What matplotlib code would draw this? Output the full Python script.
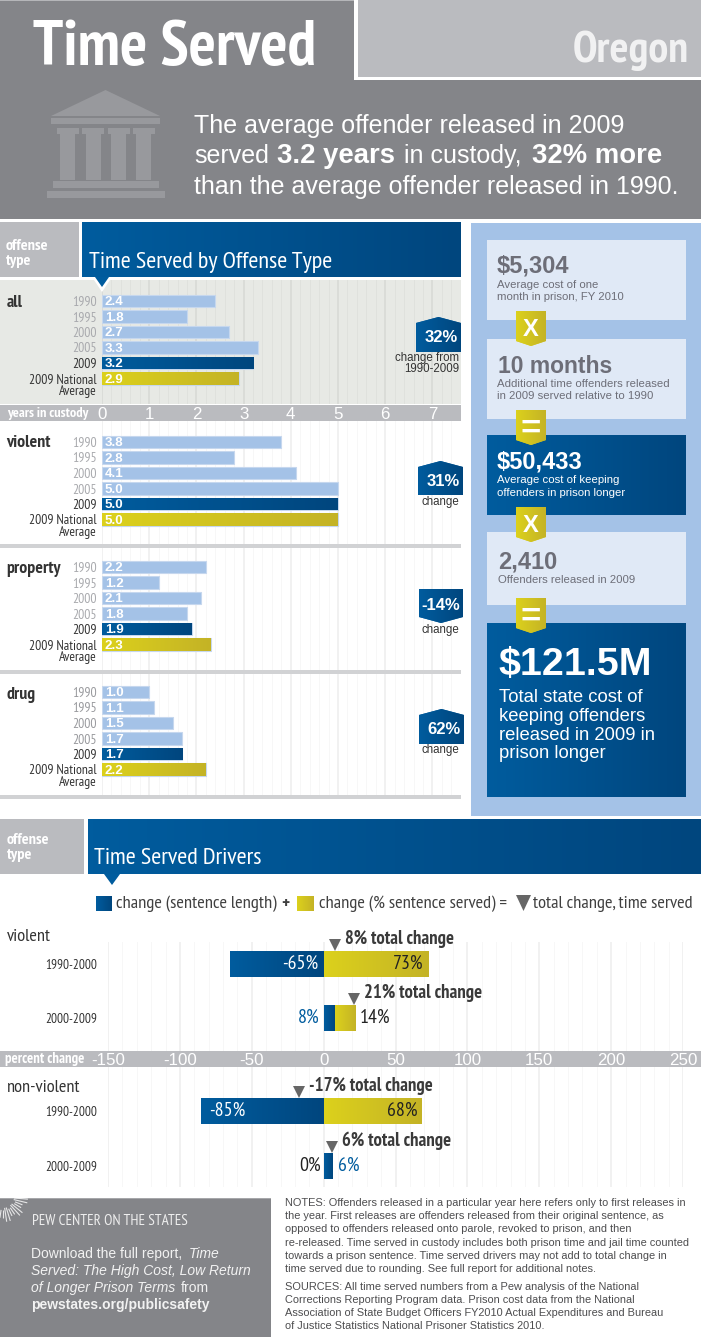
"""Time Served - Oregon fact sheet."""
import matplotlib

matplotlib.use("Agg")
import matplotlib.pyplot as plt
import numpy as np
from matplotlib.colors import LinearSegmentedColormap
from matplotlib.patches import Polygon, Rectangle

W, H = 701, 1337
NARROW = ["PT Sans Narrow", "Liberation Sans"]
SANS = "Liberation Sans"

GRAY = "#848589"
LIGHT_GRAY = "#babbbf"
LIGHT_BLUE = "#a4c2e7"
PALE_BLUE = "#e0e9f6"
BLUE = ("#005c9e", "#00467e")
YELLOW = ("#dcd11c", "#c4b326")

# time served by offense type
years = ["1990", "1995", "2000", "2005", "2009", "2009 National"]
offenses = ["all", "violent", "property", "drug"]
all_values = [2.4, 1.8, 2.7, 3.3, 3.2, 2.9]
violent_values = [3.8, 2.8, 4.1, 5.0, 5.0, 5.0]
property_values = [2.2, 1.2, 2.1, 1.8, 1.9, 2.3]
drug_values = [1.0, 1.1, 1.5, 1.7, 1.7, 2.2]
changes = ["32%", "31%", "-14%", "62%"]

# time served drivers
periods = ["1990-2000", "2000-2009"]
violent_length = [-65, 8]
violent_served = [73, 14]
violent_total = [8, 21]
nonviolent_length = [-85, 6]
nonviolent_served = [68, 0]
nonviolent_total = [-17, 6]

year_ticks = list(range(8))
percent_ticks = list(range(-150, 251, 50))


def px_axes(left, top, right, bottom, zorder=1):
    ax = fig.add_axes(
        [left / W, 1 - bottom / H, (right - left) / W, (bottom - top) / H],
        zorder=zorder,
    )
    ax.patch.set_visible(False)
    for spine in ax.spines.values():
        spine.set_visible(False)
    return ax


def gradient(ax, patch, colors):
    # horizontal gradient clipped to a patch
    x0, y0, x1, y1 = patch.get_path().get_extents(patch.get_patch_transform()).extents
    cmap = LinearSegmentedColormap.from_list("g", colors)
    im = ax.imshow(
        np.linspace(0, 1, 128).reshape(1, -1),
        extent=(x0, x1, y1, y0),
        cmap=cmap,
        aspect="auto",
        interpolation="bilinear",
        zorder=patch.get_zorder() + 0.1,
    )
    im.set_clip_path(patch)


def rect(ax, x0, y0, x1, y1, color, zorder=1):
    p = Rectangle((x0, y0), x1 - x0, y1 - y0, fc=color, ec="none", zorder=zorder)
    ax.add_patch(p)
    return p


def grad_rect(ax, x0, y0, x1, y1, colors, zorder=1):
    gradient(ax, rect(ax, x0, y0, x1, y1, colors[0], zorder), colors)


def poly(ax, pts, color, zorder=1):
    p = Polygon(pts, closed=True, fc=color, ec="none", zorder=zorder)
    ax.add_patch(p)
    return p


def label(ax, x, y, s, size, color="white", family=SANS, weight="normal", **kw):
    kw.setdefault("va", "baseline")
    return ax.text(x, y, s, fontsize=size, color=color, family=family, weight=weight, **kw)


def set_grid(ax, minor_step, xmin, xmax):
    ax.set_xticks(np.arange(xmin, xmax + 1e-6, minor_step), minor=True)
    ax.grid(True, which="major", axis="x", color="black", alpha=0.07, lw=1.1)
    ax.grid(True, which="minor", axis="x", color="black", alpha=0.03, lw=0.7)
    ax.set_axisbelow(True)
    ax.tick_params(which="both", length=0)


def offense_panel(values, top, bottom, first, muted, show_ticks=False):
    step = 15.5
    ax = px_axes(102, top, 461, bottom)
    ax.set_xlim(0, 359 / 47.2)
    ax.set_ylim((bottom - first) / step, (top - first) / step)
    ax.autoscale(False)
    ax.set_xticks(year_ticks)
    set_grid(ax, 0.2, 0, 7.6)
    if show_ticks:
        ax.set_xticklabels([str(t) for t in year_ticks], color="white", fontsize=12.2, family=SANS)
        ax.tick_params(axis="x", pad=2.5)
    else:
        ax.set_xticklabels([])

    rows = np.arange(len(values))
    bars = ax.barh(rows, values, height=0.8, color=LIGHT_BLUE, edgecolor="#c6d7ee", linewidth=0.8, zorder=3)
    gradient(ax, bars[4], BLUE)
    gradient(ax, bars[5], YELLOW)
    for row, v in zip(rows, values):
        ax.text(0.06, row + 0.08, f"{v:.1f}", color="white", fontsize=9.6, family=SANS,
                weight="bold", va="center", zorder=5)

    ax.set_yticks(list(rows) + [5.73])
    ax.set_yticklabels(years + ["Average"], family=NARROW, fontsize=9.8)
    ax.tick_params(axis="y", pad=3.6)
    for i, tick in enumerate(ax.get_yticklabels()):
        tick.set_color(muted if i < 4 else "#333333")
    return ax


def driver_panel(length, served, total, top, bottom, first, step, show_ticks=False):
    ax = px_axes(108, top, 683, bottom)
    ax.set_xlim(percent_ticks[0], percent_ticks[-1])
    ax.set_ylim((bottom - first) / step, (top - first) / step)
    ax.autoscale(False)
    ax.set_xticks(percent_ticks)
    set_grid(ax, 10, percent_ticks[0], percent_ticks[-1])
    if show_ticks:
        ax.set_xticklabels([str(t) for t in percent_ticks], color="white", fontsize=12.2, family=SANS)
        ax.tick_params(axis="x", pad=1.5)
    else:
        ax.set_xticklabels([])

    rows = np.arange(len(periods))
    h = 26 / step
    blue = ax.barh(rows, length, height=h, color=BLUE[0], zorder=3)
    starts = [a if a > 0 else 0 for a in length]
    yellow = ax.barh(rows, served, left=starts, height=h, color=YELLOW[0], zorder=3)
    for b in blue:
        gradient(ax, b, BLUE)
    for b in yellow:
        if b.get_width() > 0:
            gradient(ax, b, YELLOW)

    ax.plot(total, rows - (13 + 6.5) / step, "v", ms=9.2, color="#666666", mew=0, clip_on=False, zorder=6)
    for row, t in zip(rows, total):
        ax.annotate(f"{t}% total change", (t, row - (13 + 6.5) / step), xytext=(7.2, 3.8),
                    textcoords="offset points", va="center", family=NARROW, weight="bold",
                    fontsize=13.4, color="#3a3a3a", annotation_clip=False, zorder=6)

    ax.set_yticks(rows)
    ax.set_yticklabels(periods, family=NARROW, fontsize=9.6, color="#333333")
    ax.tick_params(axis="y", pad=8)
    return ax


plt.rcParams["font.family"] = SANS
fig = plt.figure(figsize=(W / 100, H / 100), dpi=100, facecolor="white")

bg = px_axes(0, 0, W, H, zorder=0)
fg = px_axes(0, 0, W, H, zorder=10)
for a in (bg, fg):
    a.set_xlim(0, W)
    a.set_ylim(H, 0)
    a.autoscale(False)
    a.axis("off")

# header
rect(bg, 0, 0, W, 219, GRAY)
rect(bg, 0, 0, W, 1, "#b5b6b9")
rect(bg, 354, 0, W, 80, "white")
rect(bg, 357.5, 0, W, 77, LIGHT_GRAY)
label(fg, 33, 65, "Time Served", 46, family=NARROW, weight="bold")
label(fg, 689, 62, "Oregon", 32, color="#f1f1f2", family=NARROW, weight="bold", ha="right")

# temple icon
ICON = "#98999d"
poly(bg, [(105.5, 90), (160, 116), (51, 116)], ICON)
rect(bg, 51, 118, 160, 124, ICON)
for cx in (67.5, 93, 118.5, 143.5):
    rect(bg, cx - 11, 128, cx + 11, 134, ICON)
    rect(bg, cx - 7.5, 134, cx + 7.5, 180, ICON)
rect(bg, 53, 181, 159, 188, ICON)
rect(bg, 47, 191, 165, 198, ICON)

HEAD = 18
label(fg, 194, 133, "The average offender released in 2009", HEAD)
label(fg, 194, 163, "served", HEAD)
label(fg, 277, 163, "3.2 years", 19.8, weight="bold")
label(fg, 404, 163, "in custody,", HEAD)
label(fg, 532, 163, "32% more", 19.8, weight="bold")
label(fg, 194, 194, "than the average offender released in 1990.", HEAD)

# offense type section
rect(bg, 0, 222, 79, 277, LIGHT_GRAY)
grad_rect(bg, 82, 222, 461, 277, BLUE)
label(fg, 6, 250, "offense", 11.6, family=NARROW, weight="bold")
label(fg, 6, 265, "type", 11.6, family=NARROW, weight="bold")
label(fg, 89, 268, "Time Served by Offense Type", 17.5, family=NARROW)
poly(fg, [(92, 277), (112, 277), (102, 292)], "white", zorder=3)
poly(fg, [(95, 277), (109, 277), (102, 287)], BLUE[0], zorder=4)

rect(bg, 0, 280, 461, 404, "#e7e9e5")
rect(bg, 0, 405, 461, 421, LIGHT_GRAY)
rect(bg, 0, 544, 461, 548, "#d1d2d4")
rect(bg, 0, 670, 461, 674, "#d1d2d4")
rect(bg, 0, 795, 461, 799, "#d1d2d4")
label(fg, 7, 413, "years in custody", 10.3, family=NARROW, weight="bold", va="center")

offense_panel(all_values, 280, 404, 301, "#a8a9ad", show_ticks=True)
offense_panel(violent_values, 421, 544, 442, "#a8a9ad")
offense_panel(property_values, 548, 670, 567, "#a8a9ad")
offense_panel(drug_values, 674, 795, 692, "#98999d")

for name, y in zip(offenses, (303, 443, 569, 695)):
    label(fg, 6.5, y, name, 12.8, color="#333333", family=NARROW, weight="bold", va="center")

# change badges: row, left, apex, shoulder, base
up_badges = [(0, 416, 317, 323, 352), (1, 418, 461, 467, 495), (3, 419, 709, 715, 744)]
for i, x0, apex, shoulder, base in up_badges:
    x1 = x0 + 45
    p = poly(fg, [(x0, shoulder), ((x0 + x1) / 2, apex), (x1, shoulder), (x1, base), (x0, base)], BLUE[0], 2)
    gradient(fg, p, BLUE)
    label(fg, x1 - 3, (shoulder + base) / 2 + 0.5, changes[i], 12, weight="bold", ha="right", va="center", zorder=5)
p = poly(fg, [(419, 589), (463, 589), (463, 617), (441, 623), (419, 617)], BLUE[0], 2)
gradient(fg, p, BLUE)
label(fg, 460, 605, changes[2], 12, weight="bold", ha="right", va="center", zorder=5)

label(fg, 459, 358, "change from", 8.3, color="#333333", ha="right", va="center")
label(fg, 459, 369.5, "1990-2009", 8.3, color="#333333", ha="right", va="center")
label(fg, 459, 502, "change", 8.3, color="#333333", ha="right", va="center")
label(fg, 459, 630, "change", 8.3, color="#333333", ha="right", va="center")
label(fg, 459, 750, "change", 8.3, color="#333333", ha="right", va="center")

# cost panel
INK = "#6d6e78"
rect(bg, 471, 222.5, W, 816, LIGHT_BLUE)
rect(bg, 487, 240, 686, 320, PALE_BLUE)
rect(bg, 487, 339, 686, 419, PALE_BLUE)
grad_rect(bg, 487, 435, 686, 515, BLUE)
rect(bg, 487, 532, 686, 605, PALE_BLUE)
grad_rect(bg, 487, 623, 686, 797, BLUE)

label(fg, 497, 272, "$5,304", 17, color=INK, weight="bold")
label(fg, 497, 288, "Average cost of one", 8.2, color=INK)
label(fg, 497, 300, "month in prison, FY 2010", 8.2, color=INK)
label(fg, 498, 373, "10 months", 16.5, color=INK, weight="bold")
label(fg, 497, 387, "Additional time offenders released", 8.2, color=INK)
label(fg, 497, 399, "in 2009 served relative to 1990", 8.2, color=INK)
label(fg, 497, 469, "$50,433", 17, weight="bold")
label(fg, 497, 483, "Average cost of keeping", 8.2)
label(fg, 497, 496, "offenders in prison longer", 8.2)
label(fg, 498, 569, "2,410", 17, color=INK, weight="bold")
label(fg, 498, 583, "Offenders released in 2009", 8.2, color=INK)
label(fg, 498, 675, "$121.5M", 28.4, weight="bold")
for y, s in zip((702, 721, 739.5, 758),
                ("Total state cost of", "keeping offenders", "released in 2009 in", "prison longer")):
    label(fg, 499, y, s, 13.3)

for y0, sign in zip((311, 410, 507, 598), ("X", "=", "X", "=")):
    p = poly(fg, [(516, y0), (546, y0), (546, y0 + 30), (531, y0 + 35), (516, y0 + 30)], YELLOW[0], 2)
    gradient(fg, p, YELLOW)
    label(fg, 531, y0 + 16, sign, 17 if sign == "X" else 25, weight="bold", ha="center",
          va="center_baseline", zorder=5)

# drivers section
rect(bg, 0, 819, 84, 874, LIGHT_GRAY)
grad_rect(bg, 87.5, 819, W, 874, BLUE)
label(fg, 7, 844, "offense", 11.6, family=NARROW, weight="bold")
label(fg, 7, 859, "type", 11.6, family=NARROW, weight="bold")
label(fg, 94, 864, "Time Served Drivers", 17.5, family=NARROW)
poly(fg, [(104, 874), (120, 874), (112, 885)], BLUE[0], 4)

# legend
grad_rect(fg, 96, 896, 112, 911, BLUE)
grad_rect(fg, 297, 896, 314, 911, YELLOW)
poly(fg, [(516, 895), (531, 895), (523.5, 911)], "#666666")
LEG = 13.3
label(fg, 116, 908, "change (sentence length)", LEG, color="#404040", family=NARROW)
label(fg, 281, 908, "+", LEG, color="#404040", family=NARROW, weight="bold")
label(fg, 319, 908, "change (% sentence served) =", LEG, color="#404040", family=NARROW)
label(fg, 533, 908, "total change, time served", LEG, color="#404040", family=NARROW)

rect(bg, 0, 1051, W, 1067, LIGHT_GRAY)
label(fg, 5, 1059, "percent change", 10.5, family=NARROW, weight="bold", va="center")
label(fg, 7, 937, "violent", 13.2, color="#333333", family=NARROW, va="center")
label(fg, 7, 1088, "non-violent", 13.2, color="#333333", family=NARROW, va="center")

ax_v = driver_panel(violent_length, violent_served, violent_total, 942, 1051, 964, 54, show_ticks=True)
ax_n = driver_panel(nonviolent_length, nonviolent_served, nonviolent_total, 1067, 1187, 1111, 55)


def bar_note(ax, x, row, s, color, ha, dx):
    ax.annotate(s, (x, row), xytext=(dx, 0), textcoords="offset points", ha=ha, va="center",
                family=NARROW, fontsize=14.3, color=color, annotation_clip=False, zorder=6)


bar_note(ax_v, 0, 0, "-65%", "white", "right", -4)
bar_note(ax_v, violent_served[0], 0, "73%", "#222222", "right", -4)
bar_note(ax_v, 0, 1, "8%", BLUE[0], "right", -3)
bar_note(ax_v, violent_length[1] + violent_served[1], 1, "14%", "#222222", "left", 3.5)
bar_note(ax_n, nonviolent_length[0], 0, "-85%", "white", "left", 5.5)
bar_note(ax_n, nonviolent_served[0], 0, "68%", "#222222", "right", -2.5)
bar_note(ax_n, 0, 1, "0%", "#222222", "right", -2)
bar_note(ax_n, nonviolent_length[1], 1, "6%", BLUE[0], "left", 4)

# footer
rect(bg, 0, 1198, 271, H, GRAY)
rect(bg, 0, 1198, 271, 1199, "#a6a7aa")
for angle in np.arange(5, 100, 8.5):
    a = np.radians(angle)
    r0, r1 = (11, 25) if int(angle) % 2 else (13, 21)
    fg.plot([3 + r0 * np.cos(a), 3 + r1 * np.cos(a)], [1197 + r0 * np.sin(a), 1197 + r1 * np.sin(a)],
            color="white", lw=0.8, alpha=0.8, solid_capstyle="butt")
label(fg, 32, 1225, "PEW CENTER ON THE STATES", 10.9, color="#eeeeee", family=NARROW)
BODY = 10
label(fg, 31, 1258, "Download the full report,", BODY, color="#f2f2f2")
label(fg, 189, 1258, "Time", BODY, color="#f2f2f2", style="italic")
label(fg, 31, 1275, "Served: The High Cost, Low Return", BODY, color="#f2f2f2", style="italic")
label(fg, 31, 1292, "of Longer Prison Terms", BODY, color="#f2f2f2", style="italic")
label(fg, 181, 1292, "from", BODY, color="#f2f2f2")
label(fg, 31, 1309, "pewstates.org/publicsafety", BODY, color="#f2f2f2", weight="bold")

notes = [
    "NOTES: Offenders released in a particular year here refers only to first releases in",
    "the year. First releases are offenders released from their original sentence, as",
    "opposed to offenders released onto parole, revoked to prison, and then",
    "re-released. Time served in custody includes both prison time and jail time counted",
    "towards a prison sentence. Time served drivers may not add to total change in",
    "time served due to rounding. See full report for additional notes.",
]
sources = [
    "SOURCES: All time served numbers from a Pew analysis of the National",
    "Corrections Reporting Program data. Prison cost data from the National",
    "Association of State Budget Officers FY2010 Actual Expenditures and Bureau",
    "of Justice Statistics National Prisoner Statistics 2010.",
]
for y, s in zip((1203, 1216.3, 1229.5, 1243, 1256, 1269), notes):
    label(fg, 285, y, s, 7.95, color="#4d4d4f", va="center")
for y, s in zip((1287, 1300, 1313, 1326), sources):
    label(fg, 285, y, s, 7.95, color="#4d4d4f", va="center")

fig.savefig("out.png", dpi=100)
